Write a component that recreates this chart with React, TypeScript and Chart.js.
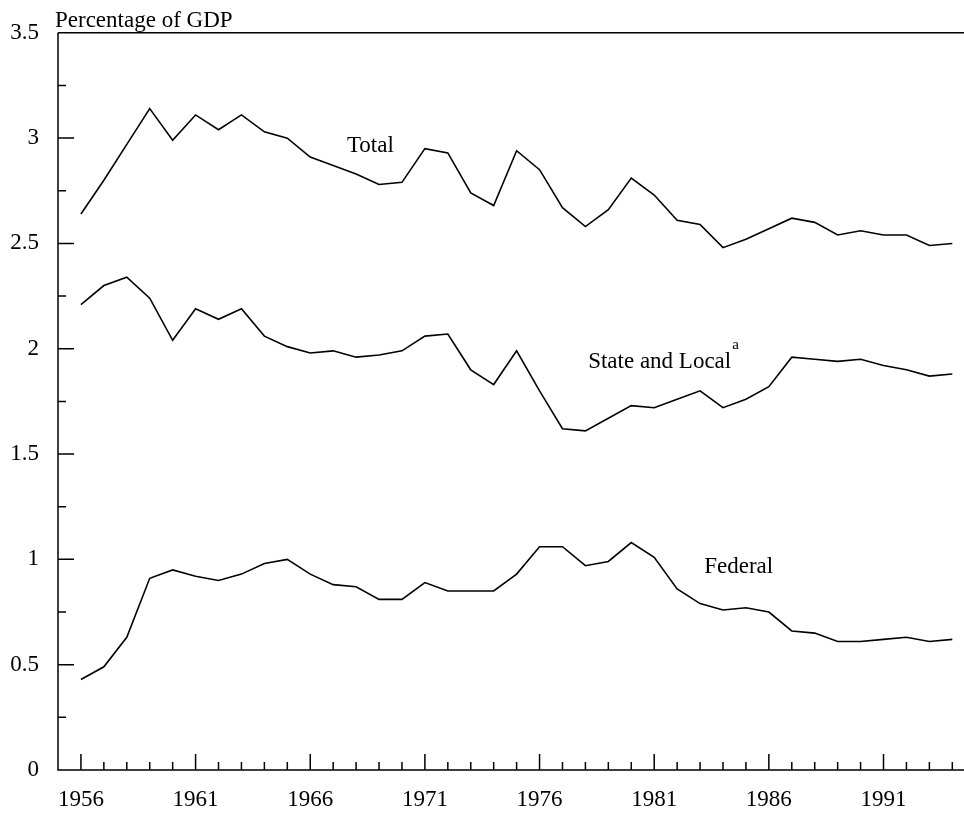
import React, { useEffect, useRef } from "react";
import { Chart, registerables } from "chart.js";

Chart.register(...registerables);

const years = [
  1956, 1957, 1958, 1959, 1960, 1961, 1962, 1963, 1964, 1965,
  1966, 1967, 1968, 1969, 1970, 1971, 1972, 1973, 1974, 1975,
  1976, 1977, 1978, 1979, 1980, 1981, 1982, 1983, 1984, 1985,
  1986, 1987, 1988, 1989, 1990, 1991, 1992, 1993, 1994,
];

const total = [
  2.64, 2.80, 2.97, 3.14, 2.99, 3.11, 3.04, 3.11, 3.03, 3.00,
  2.91, 2.87, 2.83, 2.78, 2.79, 2.95, 2.93, 2.74, 2.68, 2.94,
  2.85, 2.67, 2.58, 2.66, 2.81, 2.73, 2.61, 2.59, 2.48, 2.52,
  2.57, 2.62, 2.60, 2.54, 2.56, 2.54, 2.54, 2.49, 2.50,
];

const stateLocal = [
  2.21, 2.30, 2.34, 2.24, 2.04, 2.19, 2.14, 2.19, 2.06, 2.01,
  1.98, 1.99, 1.96, 1.97, 1.99, 2.06, 2.07, 1.90, 1.83, 1.99,
  1.80, 1.62, 1.61, 1.67, 1.73, 1.72, 1.76, 1.80, 1.72, 1.76,
  1.82, 1.96, 1.95, 1.94, 1.95, 1.92, 1.90, 1.87, 1.88,
];

const federal = [
  0.43, 0.49, 0.63, 0.91, 0.95, 0.92, 0.90, 0.93, 0.98, 1.00,
  0.93, 0.88, 0.87, 0.81, 0.81, 0.89, 0.85, 0.85, 0.85, 0.93,
  1.06, 1.06, 0.97, 0.99, 1.08, 1.01, 0.86, 0.79, 0.76, 0.77,
  0.75, 0.66, 0.65, 0.61, 0.61, 0.62, 0.63, 0.61, 0.62,
];

const xLabelYears = [1956, 1961, 1966, 1971, 1976, 1981, 1986, 1991];
const yTickValues = [0, 0.5, 1, 1.5, 2, 2.5, 3, 3.5];
const yMinorValues = [0.25, 0.75, 1.25, 1.75, 2.25, 2.75, 3.25];

const yAxisTitle = "Percentage of GDP";
const seriesLabels = [
  { text: "Total", x: 1967.6, y: 2.934 },
  { text: "State and Local", x: 1978.12, y: 1.908, sup: "a" },
  { text: "Federal", x: 1983.18, y: 0.933 },
];

const FONT = "'Liberation Serif', 'Times New Roman', Times, serif";

const decorPlugin = {
  id: "decor",
  afterDraw(chart: any) {
    const { ctx, chartArea, scales } = chart;
    const xs = scales.x;
    const ys = scales.y;
    const { left, right, top, bottom } = chartArea;
    ctx.save();
    ctx.strokeStyle = "#000";
    ctx.lineWidth = 1.5;
    ctx.beginPath();
    ctx.moveTo(left, top);
    ctx.lineTo(left, bottom);
    ctx.lineTo(right, bottom);
    ctx.moveTo(left, top);
    ctx.lineTo(right, top);
    years.forEach((yr) => {
      const px = xs.getPixelForValue(yr);
      const len = xLabelYears.includes(yr) ? 16 : 8;
      ctx.moveTo(px, bottom);
      ctx.lineTo(px, bottom - len);
    });
    yTickValues.forEach((v) => {
      const py = ys.getPixelForValue(v);
      ctx.moveTo(left, py);
      ctx.lineTo(left + 16, py);
    });
    yMinorValues.forEach((v) => {
      const py = ys.getPixelForValue(v);
      ctx.moveTo(left, py);
      ctx.lineTo(left + 8, py);
    });
    ctx.stroke();

    ctx.fillStyle = "#000";
    ctx.textBaseline = "alphabetic";
    ctx.textAlign = "left";
    ctx.font = `23px ${FONT}`;
    ctx.fillText(yAxisTitle, left - 3, top - 6);

    seriesLabels.forEach((l) => {
      const px = xs.getPixelForValue(l.x);
      const py = ys.getPixelForValue(l.y);
      ctx.font = `23px ${FONT}`;
      ctx.fillText(l.text, px, py);
      if (l.sup) {
        const w = ctx.measureText(l.text).width;
        ctx.font = `15px ${FONT}`;
        ctx.fillText(l.sup, px + w + 1, py - 19);
      }
    });
    ctx.restore();
  },
};

export default function App() {
  const canvasRef = useRef<HTMLCanvasElement | null>(null);

  useEffect(() => {
    if (!canvasRef.current) return;
    const mk = (arr: number[]) => years.map((yr, i) => ({ x: yr, y: arr[i] }));
    const ds = (label: string, arr: number[]) => ({
      label,
      data: mk(arr),
      borderColor: "#000",
      borderWidth: 1.6,
      pointRadius: 0,
      tension: 0,
      fill: false,
    });
    const chart = new Chart(canvasRef.current, {
      type: "line",
      data: {
        datasets: [ds("Total", total), ds("State and Local", stateLocal), ds("Federal", federal)],
      },
      options: {
        animation: false,
        responsive: true,
        maintainAspectRatio: false,
        layout: { padding: { top: 27, right: 0, left: 0, bottom: 0 } },
        plugins: {
          legend: { display: false },
          tooltip: { enabled: false },
        },
        scales: {
          x: {
            type: "linear",
            min: 1955,
            max: 1994.51,
            grid: { display: false, drawTicks: false },
            border: { display: false },
            afterBuildTicks: (scale: any) => {
              scale.ticks = xLabelYears.map((v) => ({ value: v }));
            },
            afterFit: (scale: any) => {
              scale.height = 46;
            },
            ticks: {
              color: "#000",
              padding: 16,
              maxRotation: 0,
              autoSkip: false,
              font: { family: FONT, size: 23 },
              callback: (v: any) => String(v),
            },
          },
          y: {
            type: "linear",
            min: 0,
            max: 3.5,
            grid: { display: false, drawTicks: false },
            border: { display: false },
            afterBuildTicks: (scale: any) => {
              scale.ticks = yTickValues.map((v) => ({ value: v }));
            },
            afterFit: (scale: any) => {
              scale.width = 58;
            },
            ticks: {
              color: "#000",
              padding: 19,
              autoSkip: false,
              font: { family: FONT, size: 23 },
              callback: (v: any) => String(v),
            },
          },
        },
      },
      plugins: [decorPlugin],
    } as any);
    return () => chart.destroy();
  }, []);

  return (
    <div style={{ position: "absolute", left: 0, top: 0, width: 964, height: 816, background: "#fff" }}>
      <canvas ref={canvasRef} />
    </div>
  );
}
